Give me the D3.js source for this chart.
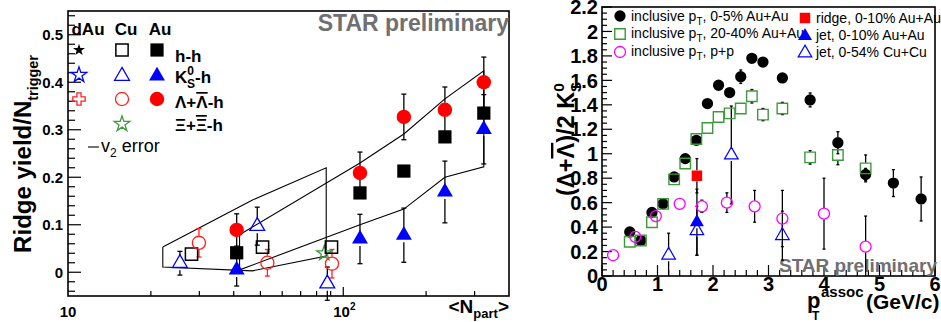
<!DOCTYPE html>
<html>
<head>
<meta charset="utf-8">
<script src="https://cdn.jsdelivr.net/npm/d3@7/dist/d3.min.js"></script>
<style>
  body { margin: 0; background: #fff; }
  text { font-family: "Liberation Sans", Arial, Helvetica, sans-serif; }
  .b { font-weight: bold; }
  .ol { text-decoration: overline; }
</style>
</head>
<body>
<div id="viz-container"></div>
<script>
// ---- left panel: ridge yield / N_trigger vs <Npart> ----
var auNpart = [41, 115, 166, 234, 324];
var auHH = [0.041, 0.167, 0.213, 0.285, 0.335];
var auK0s = [0.005, 0.070, 0.078, 0.169, 0.301];
var auK0sErr = [0.034, 0.052, 0.057, 0.065, 0.073];
var auLam = [0.089, 0.209, 0.327, 0.342, 0.400];
var auLamErr = [0.034, 0.044, 0.048, 0.048, 0.053];

var cuHHNpart = [28.1, 50.9, 90.6];
var cuHH = [0.038, 0.053, 0.053];
var cuK0sNpart = [25.5, 48.7, 87.5];
var cuK0s = [0.019, 0.097, -0.024];
var cuK0sErr = [0.025, 0.040, 0.035];
var cuLamNpart = [29.9, 53, 91];
var cuLam = [0.062, 0.020, 0.018];
var cuLamErr = [0.030, 0.028, 0.030];
var cuXiNpart = [85.3];
var cuXi = [0.040];

// v2 error bands
var cuBandNpart = [22.1, 46.8, 86.7];
var cuBandHi = [0.053, 0.152, 0.220];
var cuBandLo = [0.011, 0.003, 0.034];
var auBandNpart = [42, 115, 166, 234, 324];
var auBandHi = [0.079, 0.230, 0.291, 0.365, 0.424];
var auBandLo = [0.005, 0.100, 0.133, 0.200, 0.222];

var leftYTicks = [0, 0.1, 0.2, 0.3, 0.4, 0.5];

// ---- right panel: (Lambda+antiLambda)/2K0s vs pT assoc ----
var incAuPt = [0.5, 0.7, 0.9, 1.1, 1.3, 1.5, 1.7, 1.9, 2.1, 2.3, 2.5, 2.7, 2.9, 3.25, 3.75, 4.25, 4.75, 5.25, 5.75];
var incAuRatio = [0.36, 0.29, 0.52, 0.59, 0.81, 0.96, 1.11, 1.41, 1.56, 1.50, 1.63, 1.78, 1.75, 1.62, 1.44, 1.09, 0.83, 0.76, 0.63];
var incAuErr = [0, 0, 0, 0, 0, 0, 0, 0, 0, 0, 0.055, 0, 0, 0, 0.057, 0.09, 0.05, 0.11, 0.18];

var incMidPt = [0.5, 0.7, 0.9, 1.1, 1.3, 1.5, 1.7, 1.9, 2.1, 2.3, 2.5, 2.7, 2.9, 3.25, 3.75, 4.25, 4.75];
var incMidRatio = [0.28, 0.29, 0.44, 0.59, 0.79, 0.92, 1.12, 1.21, 1.30, 1.33, 1.37, 1.47, 1.32, 1.37, 0.97, 0.99, 0.88];
var incMidErr = [0, 0, 0, 0, 0, 0, 0, 0, 0, 0, 0, 0.055, 0.05, 0.05, 0.055, 0.08, 0.11];

var incPPPt = [0.2, 0.6, 0.97, 1.4, 1.8, 2.25, 2.75, 3.25, 4.0, 4.75];
var incPPRatio = [0.17, 0.32, 0.49, 0.59, 0.57, 0.60, 0.57, 0.47, 0.51, 0.24];
var incPPErr = [0, 0, 0, 0, 0.05, 0.08, 0.13, 0.23, 0.29, 0.25];

var ridgePt = [1.71];
var ridgeRatio = [0.82];
var ridgeErr = [0.14];
var jetAuPt = [1.71];
var jetAuRatio = [0.44];
var jetAuErr = [0.27];
var jetCuPt = [1.2, 1.71, 2.33, 3.25];
var jetCuRatio = [0.17, 0.37, 0.99, 0.33];
var jetCuErr = [0.18, 0.20, 0.40, 0.20];

var rightYTicks = [0, 0.2, 0.4, 0.6, 0.8, 1, 1.2, 1.4, 1.6, 1.8, 2, 2.2];
var rightXTicks = [0, 1, 2, 3, 4, 5, 6];

var GREEN = "#3c9a3c", GRAY = "#707070";

var svg = d3.select("#viz-container")
            .append("svg")
            .attr("width", 941)
            .attr("height", 322);

// marker helper
function marker(g, xs, ys, x, y, type, size, fill, stroke, sw) {
  var sym = d3.symbol().type(type).size(size);
  g.selectAll(null)
   .data(xs)
   .enter().append("path")
   .attr("d", sym)
   .attr("transform", function(d, i) { return "translate(" + x(d) + "," + y(ys[i]) + ")"; })
   .attr("fill", fill)
   .attr("stroke", stroke)
   .attr("stroke-width", sw || 0);
}

// ROOT style error bars: drawn outside the marker, with little caps
function errBars(g, xs, ys, es, x, y, r, color, cap) {
  xs.forEach(function(xv, i) {
    var e = es[i];
    if (!e) return;
    var cx = x(xv), cy = y(ys[i]);
    var top = y(ys[i] + e), bot = y(ys[i] - e);
    [[top, -1], [bot, 1]].forEach(function(p) {
      if (Math.abs(p[0] - cy) <= r) return;
      g.append("line").attr("x1", cx).attr("x2", cx)
       .attr("y1", cy + p[1] * r).attr("y2", p[0])
       .attr("stroke", color).attr("stroke-width", 1.3);
      g.append("line").attr("x1", cx - cap).attr("x2", cx + cap)
       .attr("y1", p[0]).attr("y2", p[0])
       .attr("stroke", color).attr("stroke-width", 1.3);
    });
  });
}

// rotated axis title, stretched to span a given length
function fitTitle(t, cx, cy, len) {
  var w = t.node().getBBox().width;
  var s = len / w;
  t.attr("transform", "translate(" + cx + "," + cy + ") rotate(-90) scale(" + s + ")");
}

// ================= LEFT PANEL =================
var L = {left: 68, right: 509, top: 11, bottom: 296};
var xL = d3.scaleLog().domain([10, 400]).range([L.left, L.right]);
var yL = d3.scaleLinear().domain([-0.05, 0.55]).range([L.bottom, L.top]);

var left = svg.append("g");

// v2 error bands
var bandLine = d3.line().x(function(d) { return xL(d[0]); }).y(function(d) { return yL(d[1]); });
function band(xs, hi, lo) {
  var pts = xs.map(function(d, i) { return [d, hi[i]]; });
  for (var i = xs.length - 1; i >= 0; i--) pts.push([xs[i], lo[i]]);
  pts.push(pts[0]);
  left.append("path").attr("d", bandLine(pts))
      .attr("fill", "none").attr("stroke", "#000").attr("stroke-width", 1.1);
}
band(cuBandNpart, cuBandHi, cuBandLo);
band(auBandNpart, auBandHi, auBandLo);

// y ticks
var yMinorL = d3.range(-0.04, 0.55, 0.02);
left.selectAll(null).data(yMinorL).enter().append("line")
    .attr("x1", L.left).attr("x2", function(d) { return L.left + (Math.abs(Math.round(d * 50) % 5) === 0 ? 13 : 7); })
    .attr("y1", function(d) { return yL(d); }).attr("y2", function(d) { return yL(d); })
    .attr("stroke", "#000").attr("stroke-width", 1.2);
left.selectAll(null).data(leftYTicks).enter().append("text")
    .attr("class", "b")
    .attr("x", 63).attr("y", function(d) { return yL(d); })
    .attr("dy", "0.36em").attr("text-anchor", "end")
    .attr("font-size", 15)
    .text(function(d) { return d === 0 ? "0" : d3.format(".1f")(d); });

// x ticks (log)
var xMinorL = [20, 30, 40, 50, 60, 70, 80, 90, 100, 200, 300];
left.selectAll(null).data(xMinorL).enter().append("line")
    .attr("x1", function(d) { return xL(d); }).attr("x2", function(d) { return xL(d); })
    .attr("y1", L.bottom).attr("y2", function(d) { return L.bottom - (d === 100 ? 9 : 5); })
    .attr("stroke", "#000").attr("stroke-width", 1.2);
left.append("text").attr("class", "b").attr("x", xL(10)).attr("y", 317)
    .attr("text-anchor", "middle").attr("font-size", 15).text("10");
var t100 = left.append("text").attr("class", "b").attr("x", xL(100) - 10).attr("y", 317)
    .attr("font-size", 15);
t100.append("tspan").text("10");
t100.append("tspan").attr("font-size", 10).attr("dy", -7).text("2");

// frame
left.append("rect").attr("x", L.left).attr("y", L.top)
    .attr("width", L.right - L.left).attr("height", L.bottom - L.top)
    .attr("fill", "none").attr("stroke", "#000").attr("stroke-width", 1.6);

// axis titles
var xtL = left.append("text").attr("class", "b").attr("x", 509).attr("y", 313)
    .attr("text-anchor", "end").attr("font-size", 19);
xtL.append("tspan").text("<N");
xtL.append("tspan").attr("font-size", 13).attr("dy", 5).text("part");
xtL.append("tspan").attr("dy", -5).text(">");

var ytL = left.append("text").attr("class", "b")
    .attr("text-anchor", "middle").attr("font-size", 25);
ytL.append("tspan").text("Ridge yield/N");
ytL.append("tspan").attr("font-size", 15).attr("dy", 7).text("trigger");
fitTitle(ytL, 31, 154, 198);

left.append("text").attr("class", "b").attr("x", 509).attr("y", 31)
    .attr("text-anchor", "end").attr("font-size", 23).attr("fill", GRAY)
    .text("STAR preliminary");

// error bars then markers
var eL = left.append("g");
errBars(eL, auNpart, auK0s, auK0sErr, xL, yL, 7, "#000", 2.5);
errBars(eL, auNpart, auLam, auLamErr, xL, yL, 7, "#000", 2.5);
errBars(eL, cuK0sNpart, cuK0s, cuK0sErr, xL, yL, 7, "#000", 2.5);
errBars(eL, cuLamNpart, cuLam, cuLamErr, xL, yL, 7, "#ff2020", 2.5);

marker(left, cuXiNpart, cuXi, xL, yL, d3.symbolStar, 70, "none", GREEN, 1.3);
marker(left, cuHHNpart, cuHH, xL, yL, d3.symbolSquare, 150, "none", "#000", 1.5);
marker(left, cuK0sNpart, cuK0s, xL, yL, d3.symbolTriangle, 95, "none", "#0000ff", 1.3);
marker(left, cuLamNpart, cuLam, xL, yL, d3.symbolCircle, 135, "none", "#ff2020", 1.3);
marker(left, auNpart, auHH, xL, yL, d3.symbolSquare, 175, "#000", "none");
marker(left, auNpart, auK0s, xL, yL, d3.symbolTriangle, 110, "#0000ff", "none");
marker(left, auNpart, auLam, xL, yL, d3.symbolCircle, 165, "#ff0000", "none");

// legend (left)
var lg = left.append("g");
[["dAu", 88], ["Cu", 126], ["Au", 160]].forEach(function(h) {
  lg.append("text").attr("class", "b").attr("x", h[1]).attr("y", 35)
    .attr("text-anchor", "middle").attr("font-size", 17).text(h[0]);
});
function lgSym(cx, cy, type, size, fill, stroke, sw) {
  lg.append("path").attr("d", d3.symbol().type(type).size(size))
    .attr("transform", "translate(" + cx + "," + cy + ")")
    .attr("fill", fill).attr("stroke", stroke).attr("stroke-width", sw || 0);
}
lgSym(79, 50, d3.symbolStar, 45, "#000", "none");
lgSym(79, 75, d3.symbolStar, 75, "none", "#0000ff", 1.3);
lgSym(79, 99, d3.symbolCross, 85, "none", "#ff2020", 1.3);
lgSym(122, 50, d3.symbolSquare, 150, "none", "#000", 1.5);
lgSym(122, 76, d3.symbolTriangle, 95, "none", "#0000ff", 1.3);
lgSym(122, 99, d3.symbolCircle, 135, "none", "#ff2020", 1.3);
lgSym(122, 124, d3.symbolStar, 75, "none", GREEN, 1.3);
lgSym(157, 50, d3.symbolSquare, 175, "#000", "none");
lgSym(157, 76, d3.symbolTriangle, 110, "#0000ff", "none");
lgSym(157, 99, d3.symbolCircle, 165, "#ff0000", "none");

lg.append("text").attr("class", "b").attr("x", 175).attr("y", 62).attr("font-size", 17).text("h-h");
var kl = lg.append("text").attr("class", "b").attr("x", 175).attr("y", 83).attr("font-size", 17);
kl.append("tspan").text("K");
kl.append("tspan").attr("font-size", 12).attr("dy", -8).text("0");
kl.append("tspan").attr("font-size", 12).attr("dx", -7).attr("dy", 13).text("S");
kl.append("tspan").attr("dy", -5).text("-h");
var ll = lg.append("text").attr("class", "b").attr("x", 175).attr("y", 108).attr("font-size", 17);
ll.append("tspan").text("\u039B+");
ll.append("tspan").attr("class", "ol").text("\u039B");
ll.append("tspan").text("-h");
var xl = lg.append("text").attr("class", "b").attr("x", 175).attr("y", 131).attr("font-size", 17);
xl.append("tspan").text("\u039E+");
xl.append("tspan").attr("class", "ol").text("\u039E");
xl.append("tspan").text("-h");

lg.append("line").attr("x1", 88).attr("x2", 99).attr("y1", 147).attr("y2", 147)
  .attr("stroke", "#000").attr("stroke-width", 1.1);
var vl = lg.append("text").attr("x", 101).attr("y", 152).attr("font-size", 18);
vl.append("tspan").text("v");
vl.append("tspan").attr("font-size", 12).attr("dy", 5).text("2");
vl.append("tspan").attr("dy", -5).text(" error");

// ================= RIGHT PANEL =================
var R = {left: 602, right: 935, top: 7, bottom: 276};
var xR = d3.scaleLinear().domain([0, 6]).range([R.left, R.right]);
var yR = d3.scaleLinear().domain([0, 2.2]).range([R.bottom, R.top]);

var right = svg.append("g");
svg.append("clipPath").attr("id", "clipR").append("rect")
   .attr("x", R.left).attr("y", R.top).attr("width", R.right - R.left).attr("height", R.bottom - R.top);

// ticks
var yMinorR = d3.range(0, 2.21, 0.05);
right.selectAll(null).data(yMinorR).enter().append("line")
     .attr("x1", R.left).attr("x2", function(d) { return R.left + (Math.round(d * 20) % 4 === 0 ? 10 : 5); })
     .attr("y1", function(d) { return yR(d); }).attr("y2", function(d) { return yR(d); })
     .attr("stroke", "#000").attr("stroke-width", 1.2);
right.selectAll(null).data(rightYTicks).enter().append("text")
     .attr("class", "b").attr("x", 598).attr("y", function(d) { return yR(d); })
     .attr("dy", "0.36em").attr("text-anchor", "end").attr("font-size", 20)
     .text(function(d) { return d3.format("~g")(d); });
var xMinorR = d3.range(0, 6.01, 0.2);
right.selectAll(null).data(xMinorR).enter().append("line")
     .attr("x1", function(d) { return xR(d); }).attr("x2", function(d) { return xR(d); })
     .attr("y1", R.bottom).attr("y2", function(d) { return R.bottom - (Math.round(d * 5) % 5 === 0 ? 11 : 6); })
     .attr("stroke", "#000").attr("stroke-width", 1.2);
right.selectAll(null).data(rightXTicks).enter().append("text")
     .attr("class", "b").attr("x", function(d) { return xR(d); }).attr("y", 291)
     .attr("text-anchor", "middle").attr("font-size", 20)
     .text(function(d) { return d; });

right.append("rect").attr("x", R.left).attr("y", R.top)
     .attr("width", R.right - R.left).attr("height", R.bottom - R.top)
     .attr("fill", "none").attr("stroke", "#000").attr("stroke-width", 1.6);

// titles
right.append("text").attr("class", "b").attr("x", 807).attr("y", 308).attr("font-size", 22).text("p");
right.append("text").attr("class", "b").attr("x", 812).attr("y", 320).attr("font-size", 12).text("T");
right.append("text").attr("class", "b").attr("x", 821).attr("y", 297).attr("font-size", 15).text("assoc");
right.append("text").attr("class", "b").attr("x", 866).attr("y", 309).attr("font-size", 21).text("(GeV/c)");

var ytR = right.append("text").attr("class", "b")
     .attr("text-anchor", "middle").attr("font-size", 23);
ytR.append("tspan").text("(\u039B+");
ytR.append("tspan").attr("class", "ol").text("\u039B");
ytR.append("tspan").text(")/2 K");
ytR.append("tspan").attr("font-size", 15).attr("dy", -10).text("0");
ytR.append("tspan").attr("font-size", 15).attr("dx", -9).attr("dy", 17).text("S");
fitTitle(ytR, 574, 139, 114);

right.append("text").attr("class", "b").attr("x", 937).attr("y", 272)
     .attr("text-anchor", "end").attr("font-size", 19).attr("fill", GRAY)
     .text("STAR preliminary");

// data
var dR = right.append("g").attr("clip-path", "url(#clipR)");
errBars(dR, incAuPt, incAuRatio, incAuErr, xR, yR, 5.5, "#000", 1.5);
errBars(dR, incMidPt, incMidRatio, incMidErr, xR, yR, 5.5, "#000", 1.5);
errBars(dR, incPPPt, incPPRatio, incPPErr, xR, yR, 5.5, "#000", 1.5);
errBars(dR, ridgePt, ridgeRatio, ridgeErr, xR, yR, 5.5, "#000", 1.5);
errBars(dR, jetAuPt, jetAuRatio, jetAuErr, xR, yR, 6, "#000", 1.5);
errBars(dR, jetCuPt, jetCuRatio, jetCuErr, xR, yR, 6, "#000", 1.5);

marker(dR, incAuPt, incAuRatio, xR, yR, d3.symbolCircle, 100, "#000", "none");
marker(dR, incMidPt, incMidRatio, xR, yR, d3.symbolSquare, 110, "none", GREEN, 1.4);
marker(dR, incPPPt, incPPRatio, xR, yR, d3.symbolCircle, 95, "none", "#ff00ff", 1.3);
marker(dR, ridgePt, ridgeRatio, xR, yR, d3.symbolSquare, 110, "#ff0000", "none");
marker(dR, jetAuPt, jetAuRatio, xR, yR, d3.symbolTriangle, 85, "#0000ff", "none");
marker(dR, jetCuPt, jetCuRatio, xR, yR, d3.symbolTriangle, 80, "none", "#0000ff", 1.2);

// legend (right)
var rg = right.append("g");
function rgSym(cx, cy, type, size, fill, stroke, sw) {
  rg.append("path").attr("d", d3.symbol().type(type).size(size))
    .attr("transform", "translate(" + cx + "," + cy + ")")
    .attr("fill", fill).attr("stroke", stroke).attr("stroke-width", sw || 0);
}
function rgText(x, y, pre, post) {
  var t = rg.append("text").attr("x", x).attr("y", y).attr("font-size", 14);
  t.append("tspan").text(pre);
  if (post !== undefined) {
    t.append("tspan").attr("font-size", 10).attr("dy", 4).text("T");
    t.append("tspan").attr("dy", -4).text(post);
  }
}
rgSym(620, 16, d3.symbolCircle, 100, "#000", "none");
rgSym(620, 34, d3.symbolSquare, 110, "none", GREEN, 1.4);
rgSym(620, 52, d3.symbolCircle, 95, "none", "#ff00ff", 1.3);
rgText(631, 21, "inclusive p", ", 0-5% Au+Au");
rgText(631, 38, "inclusive p", ", 20-40% Au+Au");
rgText(631, 56, "inclusive p", ", p+p");
rgSym(805, 18, d3.symbolSquare, 110, "#ff0000", "none");
rgSym(805, 36, d3.symbolTriangle, 85, "#0000ff", "none");
rgSym(805, 53, d3.symbolTriangle, 80, "none", "#0000ff", 1.2);
rgText(816, 23, "ridge, 0-10% Au+Au");
rgText(816, 40, "jet, 0-10% Au+Au");
rgText(816, 57, "jet, 0-54% Cu+Cu");
</script>
</body>
</html>
